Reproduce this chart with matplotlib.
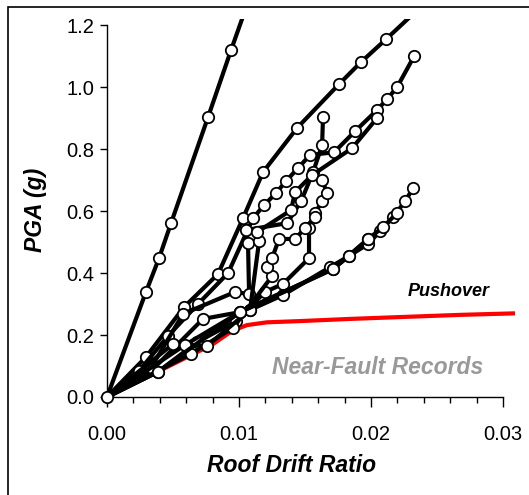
import matplotlib
matplotlib.use("Agg")
import matplotlib.pyplot as plt
from matplotlib.patches import Rectangle
from matplotlib.ticker import MultipleLocator

plt.rcParams['font.family'] = ['Liberation Sans', 'DejaVu Sans']

# IDA curves: roof drift ratio (x) vs PGA in g (y)
c1_x = [0, 0.00295, 0.00394, 0.00485, 0.00765, 0.00939, 0.0110]
c1_y = [0, 0.339, 0.448, 0.561, 0.903, 1.119, 1.313]

c2_x = [0, 0.00295, 0.00583, 0.00841, 0.0103, 0.01182, 0.01439, 0.01758, 0.01924, 0.02114, 0.02333]
c2_y = [0, 0.129, 0.290, 0.397, 0.577, 0.726, 0.868, 1.010, 1.081, 1.155, 1.242]

c3_x = [0, 0.00242, 0.00462, 0.00689, 0.00917, 0.01106, 0.01189, 0.0128, 0.01356, 0.01447,
        0.01538, 0.0172, 0.01879, 0.02045, 0.02121, 0.02197, 0.02326]
c3_y = [0, 0.084, 0.197, 0.300, 0.400, 0.577, 0.619, 0.658, 0.697, 0.739,
        0.781, 0.790, 0.858, 0.926, 0.961, 1.000, 1.100]

c4_x = [0, 0.00333, 0.00576, 0.0097, 0.01076, 0.01068, 0.01053, 0.01364, 0.0147, 0.01561, 0.01629, 0.01636]
c4_y = [0, 0.094, 0.268, 0.339, 0.332, 0.497, 0.539, 0.561, 0.632, 0.726, 0.813, 0.903]

c5_x = [0, 0.00348, 0.00727, 0.01008, 0.01083, 0.01152, 0.01136, 0.01394, 0.01424, 0.01553, 0.01856, 0.02045]
c5_y = [0, 0.090, 0.252, 0.274, 0.281, 0.503, 0.532, 0.603, 0.661, 0.716, 0.803, 0.900]

c6_x = [0, 0.00386, 0.00682, 0.00977, 0.01197, 0.01333, 0.0153, 0.0153, 0.01576, 0.01629, 0.01667, 0.01629]
c6_y = [0, 0.081, 0.177, 0.245, 0.339, 0.365, 0.448, 0.545, 0.594, 0.632, 0.658, 0.700]

c7_x = [0, 0.00636, 0.00955, 0.0125, 0.01212, 0.0125, 0.01303, 0.01424, 0.015, 0.01576]
c7_y = [0, 0.139, 0.223, 0.390, 0.419, 0.448, 0.510, 0.510, 0.545, 0.581]

c8_x = [0, 0.005, 0.00758, 0.01083, 0.01333, 0.01689, 0.01833, 0.01977, 0.02068, 0.02167, 0.02258, 0.02318]
c8_y = [0, 0.171, 0.165, 0.281, 0.329, 0.419, 0.455, 0.494, 0.535, 0.581, 0.632, 0.674]

c9_x = [0, 0.00591, 0.01008, 0.01712, 0.01977, 0.02091, 0.02197]
c9_y = [0, 0.168, 0.274, 0.413, 0.510, 0.548, 0.594]

c10_x = [0, 0.00386, 0.01008, 0.01712, 0.01833, 0.01977]
c10_y = [0, 0.081, 0.274, 0.413, 0.455, 0.510]

records = [(c1_x, c1_y), (c2_x, c2_y), (c3_x, c3_y), (c4_x, c4_y), (c5_x, c5_y),
           (c6_x, c6_y), (c7_x, c7_y), (c8_x, c8_y), (c9_x, c9_y), (c10_x, c10_y)]

# Pushover curve
push_x = [0, 0.004, 0.008, 0.0095, 0.0106, 0.0121, 0.0146, 0.0184, 0.0222, 0.0267, 0.0309]
push_y = [0, 0.085, 0.170, 0.214, 0.232, 0.241, 0.245, 0.252, 0.258, 0.265, 0.270]

x_ticks = [0.00, 0.01, 0.02, 0.03]
x_ticklabels = ["0.00", "0.01", "0.02", "0.03"]
y_ticks = [0.0, 0.2, 0.4, 0.6, 0.8, 1.0, 1.2]
y_ticklabels = ["0.0", "0.2", "0.4", "0.6", "0.8", "1.0", "1.2"]

fig = plt.figure(figsize=(5.29, 4.95), dpi=100)
ax = fig.add_axes([107/529, (495-397)/495, (515-107)/529, (397-19)/495])

ax.plot(push_x, push_y, color='#ff0000', lw=3.0, zorder=2, solid_capstyle='butt')

for xs, ys in records:
    ax.plot(xs, ys, color='black', lw=3.0, marker='o', markersize=8.2,
            markerfacecolor='white', markeredgecolor='black', markeredgewidth=1.3, zorder=3)

# origin marker drawn unclipped
ax.plot([0], [0], marker='o', markersize=8.2, markerfacecolor='white',
        markeredgecolor='black', markeredgewidth=1.3, clip_on=False, zorder=5)

ax.set_xlim(0, 0.0309)
ax.set_ylim(0, 1.22)
ax.spines['top'].set_visible(False)
ax.spines['right'].set_visible(False)
ax.spines['bottom'].set_bounds(0, 0.03)
ax.spines['left'].set_bounds(0, 1.2)
for s in ('left', 'bottom'):
    ax.spines[s].set_linewidth(1.0)

ax.set_xticks(x_ticks)
ax.set_xticklabels(x_ticklabels)
ax.xaxis.set_minor_locator(MultipleLocator(0.002))
ax.set_yticks(y_ticks)
ax.set_yticklabels(y_ticklabels)
ax.tick_params(axis='x', which='major', direction='out', length=7, width=1, labelsize=14.5, pad=13)
ax.tick_params(axis='x', which='minor', direction='out', length=4, width=1)
ax.tick_params(axis='y', which='major', direction='out', length=5, width=1, labelsize=14.5, pad=4)

ax.set_xlabel("Roof Drift Ratio", fontsize=16.5, fontweight='bold', fontstyle='italic')
ax.xaxis.set_label_coords(0.453, -0.1825)
ax.xaxis.label.set_va('center')
ax.set_ylabel("PGA (g)", fontsize=16.5, fontweight='bold', fontstyle='italic')
ax.yaxis.set_label_coords(-0.176, 0.495)
ax.yaxis.label.set_va('center')

ax.text(0.0259, 0.34, "Pushover", fontsize=13, fontweight='bold', fontstyle='italic',
        ha='center', va='center')
ax.text(0.0205, 0.095, "Near-Fault Records", fontsize=16.5, fontweight='bold', fontstyle='italic',
        color='#999999', ha='center', va='center')

fig.patches.append(Rectangle((8/529, -0.2), 2.0, 1.2 - 7/495, transform=fig.transFigure,
                             fill=False, edgecolor='black', lw=1.2))

fig.savefig("out.png", dpi=100)
